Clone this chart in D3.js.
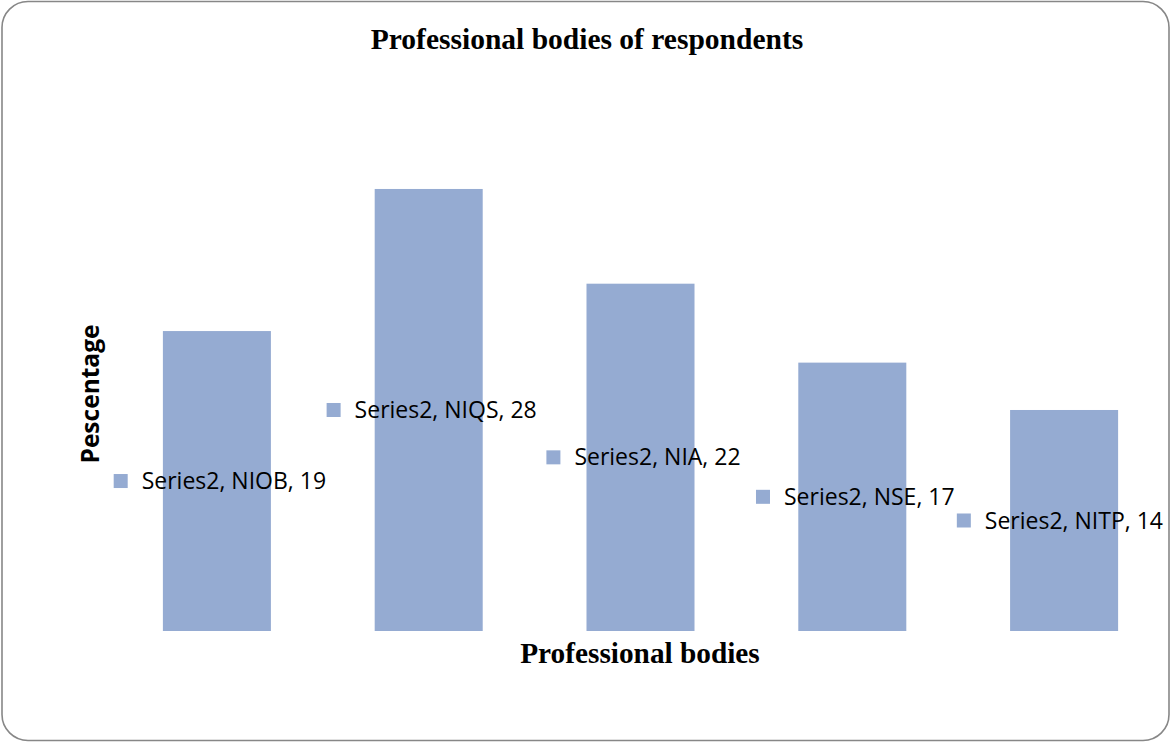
<!DOCTYPE html>
<html>
<head>
<meta charset="utf-8">
<script src="https://cdn.jsdelivr.net/npm/d3@7"></script>
<style>
    body { margin: 0; background: #fff; }
</style>
</head>
<body>
<div id="chart"></div>
<script>
var categories = ["NIOB", "NIQS", "NIA", "NSE", "NITP"];
var values = [19, 28, 22, 17, 14];
var seriesName = "Series2";

var width = 1171,
    height = 743;

var plot = { left: 111, right: 1170, top: 157.4, bottom: 631 };

var svg = d3.select("#chart").append("svg")
    .attr("width", width)
    .attr("height", height);

// outer frame
svg.append("rect")
    .attr("x", 2).attr("y", 1.5)
    .attr("width", 1167).attr("height", 739)
    .attr("rx", 26).attr("ry", 26)
    .attr("fill", "#fff")
    .attr("stroke", "#878787")
    .attr("stroke-width", 1.6);

var x = d3.scaleBand()
    .domain(categories)
    .range([plot.left, plot.right])
    .paddingInner(0.49)
    .paddingOuter(0.245);

var y = d3.scaleLinear()
    .domain([0, 30])
    .range([plot.bottom, plot.top]);

var data = categories.map(function(c, i) {
    return { name: c, value: values[i] };
});

svg.selectAll(".bar")
    .data(data)
    .enter().append("rect")
    .attr("class", "bar")
    .attr("x", function(d) { return x(d.name); })
    .attr("y", function(d) { return y(d.value); })
    .attr("width", x.bandwidth())
    .attr("height", function(d) { return y(0) - y(d.value); })
    .attr("fill", "#95abd2");

// data labels: marker + text, centred on the bar middle, kept inside the frame
var labels = svg.selectAll(".lbl")
    .data(data)
    .enter().append("g")
    .attr("class", "lbl");

labels.each(function(d) {
    var g = d3.select(this);
    var t = g.append("text")
        .attr("font-family", "'Open Sans', sans-serif")
        .attr("font-size", 23)
        .attr("fill", "#000")
        .attr("dy", "0.35em")
        .text(seriesName + ", " + d.name + ", " + d.value);
    var tw = t.node().getComputedTextLength();
    var total = 14 + 14 + tw;
    var cx = x(d.name) + x.bandwidth() / 2 + 3;
    var cy = (y(d.value) + y(0)) / 2;
    var x0 = Math.min(cx - total / 2, 1163 - total);
    g.insert("rect", "text")
        .attr("x", x0).attr("y", cy - 7)
        .attr("width", 14).attr("height", 14)
        .attr("fill", "#95abd2");
    t.attr("x", x0 + 28).attr("y", cy);
});

// titles
svg.append("text")
    .attr("x", 587).attr("y", 49)
    .attr("text-anchor", "middle")
    .attr("font-family", "'Liberation Serif', 'Times New Roman', serif")
    .attr("font-weight", "bold")
    .attr("font-size", 29.5)
    .text("Professional bodies of respondents");

svg.append("text")
    .attr("x", 640).attr("y", 663)
    .attr("text-anchor", "middle")
    .attr("font-family", "'Liberation Serif', 'Times New Roman', serif")
    .attr("font-weight", "bold")
    .attr("font-size", 29.3)
    .text("Professional bodies");

svg.append("text")
    .attr("transform", "translate(99,394) rotate(-90)")
    .attr("text-anchor", "middle")
    .attr("font-family", "'Open Sans', sans-serif")
    .attr("font-weight", "bold")
    .attr("font-size", 24.5)
    .text("Pescentage");
</script>
</body>
</html>
